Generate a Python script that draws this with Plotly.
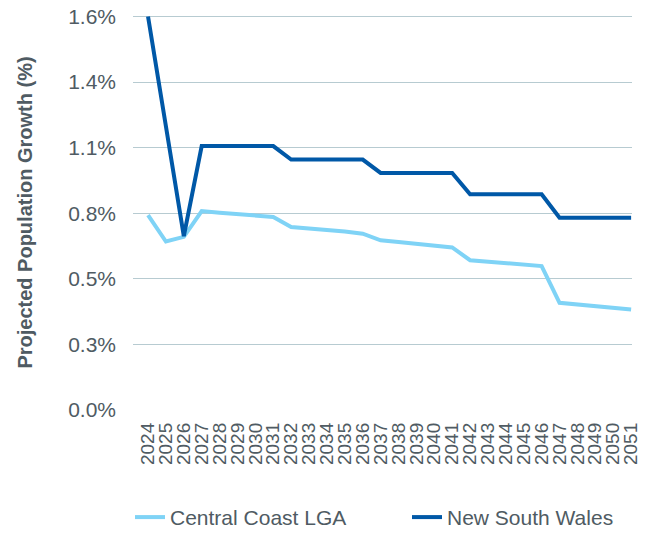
import plotly.graph_objects as go

years = [str(y) for y in range(2024, 2052)]

central_coast = [0.792, 0.685, 0.704, 0.809, 0.802, 0.796, 0.789, 0.785,
                 0.744, 0.739, 0.734, 0.726, 0.717,
                 0.690, 0.683, 0.676, 0.668, 0.661,
                 0.609, 0.603, 0.597, 0.591, 0.585,
                 0.436, 0.429, 0.422, 0.416, 0.409]

nsw = [1.600, 1.155, 0.707, 1.073, 1.073, 1.073, 1.073, 1.073,
       1.018, 1.018, 1.018, 1.018, 1.018,
       0.964, 0.964, 0.964, 0.964, 0.964,
       0.877, 0.877, 0.877, 0.877, 0.877,
       0.782, 0.782, 0.782, 0.782, 0.782]

y_tick_labels = ["0.0%", "0.3%", "0.5%", "0.8%", "1.1%", "1.4%", "1.6%"]
y_tick_vals = [round(i * 1.6 / 6, 6) for i in range(len(y_tick_labels))]

text_col = "#4f5b63"

fig = go.Figure()
fig.add_trace(go.Scatter(x=years, y=central_coast, mode="lines",
                         name="Central Coast LGA",
                         line=dict(color="#7fd3f6", width=4)))
fig.add_trace(go.Scatter(x=years, y=nsw, mode="lines",
                         name="New South Wales",
                         line=dict(color="#0058a7", width=4)))

# the page body adds an 8px offset, so the figure is 8px smaller
# y range goes a hair past 1.6 so the top gridline is still drawn
fig.update_layout(
    width=642, height=525,
    margin=dict(l=125, r=18, t=6.5, b=123, autoexpand=False),
    plot_bgcolor="white", paper_bgcolor="white",
    font=dict(family="Liberation Sans, Arial", size=21, color=text_col),
    showlegend=True,
    legend=dict(orientation="h", x=-0.006, xanchor="left",
                y=-0.272, yanchor="middle",
                entrywidth=232, entrywidthmode="pixels",
                font=dict(size=21), traceorder="normal"),
)
fig.update_xaxes(type="category", range=[-0.84, 27.05], tickangle=-90,
                 tickmode="array", tickvals=years, ticktext=years,
                 showgrid=False, showline=False, ticks="", automargin=False,
                 ticklabelstandoff=8, tickfont=dict(size=19))
fig.update_yaxes(range=[0, 1.606], tickvals=y_tick_vals, ticktext=y_tick_labels,
                 showgrid=True, gridcolor="#b7cbd1", gridwidth=1,
                 zeroline=False, showline=False, ticks="", automargin=False,
                 ticklabelstandoff=16, ticklabeloverflow="allow",
                 title=dict(text="<b>Projected Population Growth (%)</b>",
                            font=dict(size=20), standoff=30))

fig.write_html("out.html")
